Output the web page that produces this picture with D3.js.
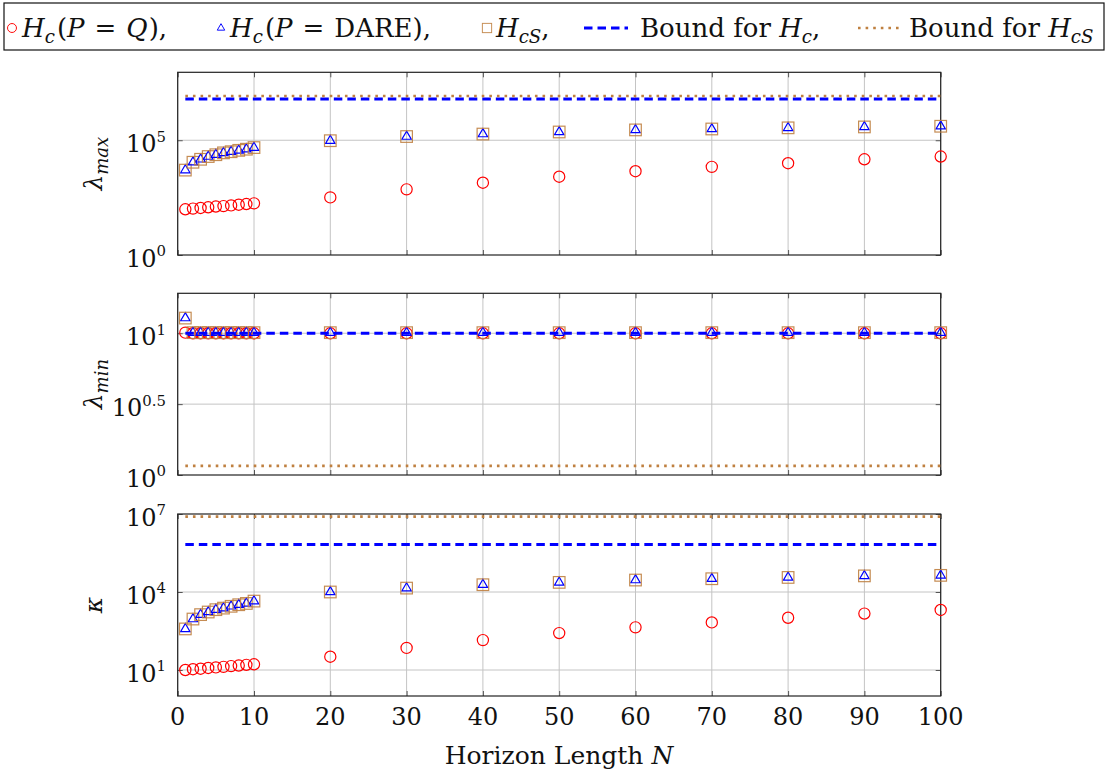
<!DOCTYPE html>
<html>
<head>
<meta charset="utf-8">
<script src="https://cdn.jsdelivr.net/npm/d3@7"></script>
<style>
body { margin: 0; background: #fff; }
text { white-space: pre; font-family: "DejaVu Serif", "Liberation Serif", serif; }
</style>
</head>
<body>
<svg id="chart" width="1108" height="774"></svg>
<script>
// horizon lengths on the x axis
var horizon = [1, 2, 3, 4, 5, 6, 7, 8, 9, 10, 20, 30, 40, 50, 60, 70, 80, 90, 100];
var xTicks = [0, 10, 20, 30, 40, 50, 60, 70, 80, 90, 100];

// lambda max
var lamMaxQ = [98, 105, 112, 120, 129, 135, 145, 155, 166, 178, 324, 724, 1413, 2570, 4467, 6918, 10000, 14790, 19500];
var lamMaxDare = [5000, 11000, 14800, 19500, 23400, 28200, 31600, 36300, 40700, 47900, 95500, 145000, 186000, 229000, 282000, 309000, 347000, 380000, 407000];
var lamMaxCS = [5000, 11000, 14800, 19500, 23400, 28200, 31600, 36300, 40700, 47900, 95500, 145000, 186000, 229000, 282000, 309000, 347000, 380000, 407000];
var lamMaxBoundHc = 6.3e6;
var lamMaxBoundHcS = 8.5e6;
var lamMaxTicks = [1, 1e5];
var lamMaxTickExp = ["0", "5"];

// lambda min
var lamMinQ = [10.1, 10, 10, 10, 10, 10, 10, 10, 10, 10, 10, 10, 10, 10, 10, 10, 10, 10, 10];
var lamMinDare = [12.8, 10.1, 10.1, 10.1, 10.1, 10.1, 10.1, 10.1, 10.1, 10.1, 10.1, 10.1, 10.1, 10.1, 10.1, 10.1, 10.1, 10.1, 10.1];
var lamMinCS = [12.8, 10.1, 10.1, 10.1, 10.1, 10.1, 10.1, 10.1, 10.1, 10.1, 10.1, 10.1, 10.1, 10.1, 10.1, 10.1, 10.1, 10.1, 10.1];
var lamMinBoundHc = 10;
var lamMinBoundHcS = 1.16;
var lamMinTicks = [1, Math.sqrt(10), 10];
var lamMinTickExp = ["0", "0.5", "1"];

// condition number kappa
var kappaQ = [10, 10.7, 11.2, 12.0, 12.6, 13.2, 14.1, 14.8, 15.8, 16.6, 32.4, 70.8, 141, 263, 437, 676, 1023, 1479, 2042];
var kappaDare = [380, 912, 1349, 1698, 2089, 2399, 2818, 3236, 3631, 4467, 10000, 14125, 19055, 23440, 28840, 32360, 36310, 41690, 43650];
var kappaCS = [380, 912, 1349, 1698, 2089, 2399, 2818, 3236, 3631, 4467, 10000, 14125, 19055, 23440, 28840, 32360, 36310, 41690, 43650];
var kappaBoundHc = 6.76e5;
var kappaBoundHcS = 7.94e6;
var kappaTicks = [10, 1e4, 1e7];
var kappaTickExp = ["1", "4", "7"];

var tickFs = 24, labelFs = 25, legFs = 26;
var red = "#ff0000", blue = "#0000ff", brown = "#bf8040";

var svg = d3.select("#chart");

var xLeft = 177.7, xRight = 940.7;
var xScale = d3.scaleLinear().domain([0, 100]).range([xLeft, xRight]);

// append text made of roman / italic / subscript / superscript pieces
// an optional third entry adds horizontal space before the piece
function mathText(sel, parts, size, ratio) {
	ratio = ratio || 0.7;
	var shift = 0;
	parts.forEach(function(p) {
		var t = sel.append("tspan").text(p[0]);
		var want = 0;
		if (p[1] === "sub") want = 0.22 * size;
		if (p[1] === "sup") want = -0.42 * size;
		if (want !== shift) {
			t.attr("dy", want - shift);
			shift = want;
		}
		if (p[2]) t.attr("dx", p[2]);
		if (p[1] === "i" || p[1] === "sub") t.attr("font-style", "italic");
		if (p[1] === "sub" || p[1] === "sup") t.attr("font-size", size * ratio);
	});
	return sel;
}

function drawMarker(g, type, cx, cy) {
	if (type === "circle") {
		g.append("circle").attr("cx", cx).attr("cy", cy).attr("r", 5.6)
			.attr("fill", "none").attr("stroke", red).attr("stroke-width", 1.2);
	} else if (type === "triangle") {
		var r = 5.4;
		var pts = [[cx, cy - r], [cx + r * 0.866, cy + r / 2], [cx - r * 0.866, cy + r / 2]];
		g.append("polygon").attr("points", pts.map(d => d.join(",")).join(" "))
			.attr("fill", "none").attr("stroke", blue).attr("stroke-width", 1.2);
	} else {
		g.append("rect").attr("x", cx - 5.8).attr("y", cy - 5.8).attr("width", 11.6).attr("height", 11.6)
			.attr("fill", "none").attr("stroke", brown).attr("stroke-width", 1.2).attr("opacity", 0.9);
	}
}

var panels = [
	{top: 72.3, bottom: 255, domain: [1, Math.pow(10, 7.96)], ticks: lamMaxTicks, exps: lamMaxTickExp,
		q: lamMaxQ, dare: lamMaxDare, cs: lamMaxCS, bHc: lamMaxBoundHc, bHcS: lamMaxBoundHcS,
		label: [["λ", "i"], ["max", "sub"]], xLabels: false},
	{top: 293.3, bottom: 475, domain: [1, Math.pow(10, 1.282)], ticks: lamMinTicks, exps: lamMinTickExp,
		q: lamMinQ, dare: lamMinDare, cs: lamMinCS, bHc: lamMinBoundHc, bHcS: lamMinBoundHcS,
		label: [["λ", "i"], ["min", "sub"]], xLabels: false},
	{top: 514, bottom: 696, domain: [1, 1e7], ticks: kappaTicks, exps: kappaTickExp,
		q: kappaQ, dare: kappaDare, cs: kappaCS, bHc: kappaBoundHc, bHcS: kappaBoundHcS,
		label: [["κ", "i"]], xLabels: true}
];

panels.forEach(function(p) {
	var yScale = d3.scaleLog().domain(p.domain).range([p.bottom, p.top]);
	var g = svg.append("g");

	// grid
	g.selectAll(".xgrid").data(xTicks).enter().append("line")
		.attr("x1", d => xScale(d)).attr("x2", d => xScale(d))
		.attr("y1", p.top).attr("y2", p.bottom)
		.attr("stroke", "#c4c4c4").attr("stroke-width", 1);
	g.selectAll(".ygrid").data(p.ticks.filter(d => d > p.domain[0] && d < p.domain[1])).enter().append("line")
		.attr("x1", xLeft).attr("x2", xRight)
		.attr("y1", d => yScale(d)).attr("y2", d => yScale(d))
		.attr("stroke", "#c4c4c4").attr("stroke-width", 1);

	// inner tick marks on all four sides
	var xAxisB = d3.axisBottom(xScale).tickValues(xTicks).tickSize(-5).tickFormat("");
	var xAxisT = d3.axisTop(xScale).tickValues(xTicks).tickSize(-5).tickFormat("");
	var yAxisL = d3.axisLeft(yScale).tickValues(p.ticks).tickSize(-5).tickFormat("");
	var yAxisR = d3.axisRight(yScale).tickValues(p.ticks).tickSize(-5).tickFormat("");
	[[xAxisB, `translate(0,${p.bottom})`], [xAxisT, `translate(0,${p.top})`],
		[yAxisL, `translate(${xLeft},0)`], [yAxisR, `translate(${xRight},0)`]].forEach(function(a) {
		var ax = g.append("g").attr("transform", a[1]).call(a[0]);
		ax.select(".domain").remove();
		ax.selectAll("line").attr("stroke", "#555").attr("stroke-width", 1);
	});

	// frame
	g.append("rect").attr("x", xLeft).attr("y", p.top)
		.attr("width", xRight - xLeft).attr("height", p.bottom - p.top)
		.attr("fill", "none").attr("stroke", "#222").attr("stroke-width", 1.2);

	// y tick labels 10^k
	p.ticks.forEach(function(t, i) {
		var txt = g.append("text").attr("x", 166).attr("y", yScale(t) + 11.5)
			.attr("text-anchor", "end").attr("font-size", tickFs)
			.attr("fill", "#111");
		mathText(txt, [["10", "r"], [p.exps[i], "sup"]], tickFs, 0.62);
	});

	// y label
	var cy = (p.top + p.bottom) / 2;
	var lab = g.append("text").attr("transform", `translate(102,${cy}) rotate(-90)`)
		.attr("text-anchor", "middle").attr("font-size", labelFs)
		.attr("fill", "#111");
	mathText(lab, p.label, labelFs, 0.72);

	// data markers
	horizon.forEach(function(n, i) {
		drawMarker(g, "circle", xScale(n), yScale(p.q[i]));
		drawMarker(g, "triangle", xScale(n), yScale(p.dare[i]));
		drawMarker(g, "square", xScale(n), yScale(p.cs[i]));
	});

	// bound lines
	g.append("line").attr("x1", xScale(horizon[0])).attr("x2", xScale(100))
		.attr("y1", yScale(p.bHc)).attr("y2", yScale(p.bHc))
		.attr("stroke", blue).attr("stroke-width", 3).attr("stroke-dasharray", "8.5,5");
	g.append("line").attr("x1", xScale(horizon[0])).attr("x2", xScale(100))
		.attr("y1", yScale(p.bHcS)).attr("y2", yScale(p.bHcS))
		.attr("stroke", brown).attr("stroke-width", 2.6).attr("stroke-dasharray", "2.6,5");

	if (p.xLabels) {
		g.selectAll(".xlab").data(xTicks).enter().append("text")
			.attr("x", d => xScale(d)).attr("y", 725)
			.attr("text-anchor", "middle").attr("font-size", tickFs)
			.attr("fill", "#111").text(d => d);
	}
});

// x axis title
var xt = svg.append("text").attr("x", 559).attr("y", 764).attr("text-anchor", "middle")
	.attr("font-size", labelFs).attr("fill", "#111");
mathText(xt, [["Horizon Length ", "r"], ["N", "i"]], labelFs);

// legend
var leg = svg.append("g");
leg.append("rect").attr("x", 4).attr("y", 3).attr("width", 1100).attr("height", 47)
	.attr("fill", "#fff").attr("stroke", "#111").attr("stroke-width", 1.2);

var legendItems = [
	{mark: "circle", mx: 12, tx: 22, parts: [["H", "i"], ["c", "sub"], ["(", "r", 2], ["P", "i"], ["=", "r", 10], ["Q", "i", 10], [")", "r", 1], [",", "r"]]},
	{mark: "triangle", mx: 221, tx: 230, parts: [["H", "i"], ["c", "sub"], ["(", "r", 2], ["P", "i"], ["=", "r", 10], ["DARE", "r", 10], [")", "r"], [",", "r"]]},
	{mark: "square", mx: 487, tx: 496, parts: [["H", "i"], ["cS", "sub"], [",", "r"]]},
	{mark: "dash", mx: 584, tx: 640, parts: [["Bound for ", "r"], ["H", "i"], ["c", "sub"], [",", "r"]]},
	{mark: "dot", mx: 858, tx: 909, parts: [["Bound for ", "r"], ["H", "i"], ["cS", "sub"]]}
];
legendItems.forEach(function(it) {
	var my = 28;
	if (it.mark === "dash") {
		leg.append("line").attr("x1", it.mx).attr("x2", it.mx + 44).attr("y1", my).attr("y2", my)
			.attr("stroke", blue).attr("stroke-width", 3).attr("stroke-dasharray", "8.5,5");
	} else if (it.mark === "dot") {
		leg.append("line").attr("x1", it.mx).attr("x2", it.mx + 44).attr("y1", my).attr("y2", my)
			.attr("stroke", brown).attr("stroke-width", 2.6).attr("stroke-dasharray", "2.6,5");
	} else {
		var mg = leg.append("g").attr("transform", `translate(${it.mx},${my}) scale(0.8)`);
		drawMarker(mg, it.mark, 0, 0);
	}
	var t = leg.append("text").attr("x", it.tx).attr("y", 37)
		.attr("font-size", legFs).attr("fill", "#111");
	mathText(t, it.parts, legFs);
});
</script>
</body>
</html>
